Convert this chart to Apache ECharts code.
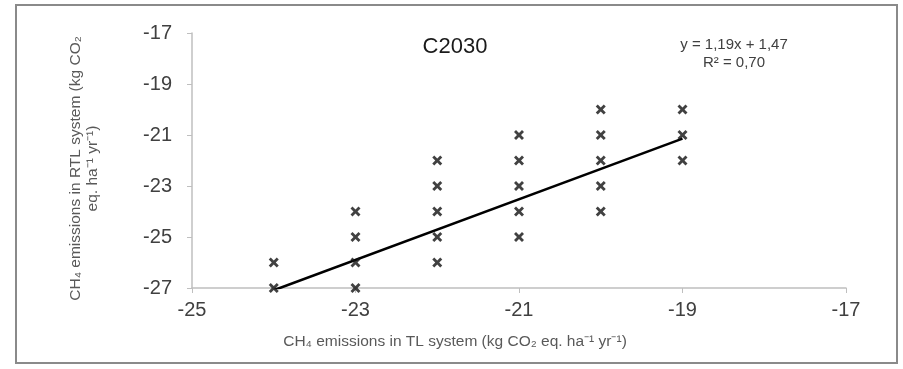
<!DOCTYPE html>
<html>
<head>
<meta charset="utf-8">
<script src="https://cdn.jsdelivr.net/npm/echarts@6/dist/echarts.min.js"></script>
<style>html,body{margin:0;padding:0;background:#fff}#c{width:903px;height:369px}</style>
</head>
<body>
<div id="c"></div>
<script>
// Data
const tlValues  = [-24, -24, -23, -23, -23, -23, -22, -22, -22, -22, -22, -21, -21, -21, -21, -21, -20, -20, -20, -20, -20, -19, -19, -19];
const rtlValues = [-26, -27, -24, -25, -26, -27, -22, -23, -24, -25, -26, -21, -22, -23, -24, -25, -20, -21, -22, -23, -24, -20, -21, -22];
const trendX = [-24, -19];
const trendY = [-27.09, -21.14];
const xTicks = [-25, -23, -21, -19, -17];
const yTicks = [-27, -25, -23, -21, -19, -17];
const titleText = 'C2030';
const eqText = 'y = 1,19x + 1,47';
const r2Text = 'R² = 0,70';

const FONT = '"Liberation Sans", Arial, sans-serif';
const points = tlValues.map((x, i) => [x, rtlValues[i]]);
const trend = trendX.map((x, i) => [x, trendY[i]]);
const crossPath = 'path://M0,2L2,0L5,3L8,0L10,2L7,5L10,8L8,10L5,7L2,10L0,8L3,5Z';

const chart = echarts.init(document.getElementById('c'), null, {renderer: 'canvas'});
chart.setOption({
  animation: false,
  backgroundColor: '#fff',
  grid: {left: 192, right: 57, top: 33, bottom: 81},
  title: {
    text: titleText, left: 450, top: 31, textAlign: 'center',
    textStyle: {fontFamily: FONT, fontSize: 22, fontWeight: 'normal', color: '#1a1a1a'}
  },
  graphic: [
    {type: 'rect', shape: {x: 16, y: 5, width: 881, height: 358}, style: {fill: 'none', stroke: '#8a8a8a', lineWidth: 2}, silent: true, z: -1},
    {type: 'text', x: 734, y: 36, style: {text: eqText + '\n' + r2Text, align: 'center', verticalAlign: 'top', fill: '#404040', font: '15px ' + FONT, lineHeight: 18}}
  ],
  xAxis: {
    type: 'value', min: -25, max: -17, interval: 2,
    axisLine: {show: true, onZero: false, lineStyle: {color: '#bfbfbf', width: 1.5}},
    axisTick: {show: true, length: 5, lineStyle: {color: '#bfbfbf'}},
    splitLine: {show: false},
    axisLabel: {margin: 12, fontFamily: FONT, fontSize: 20, color: '#404040',
      customValues: xTicks},
    name: 'CH₄ emissions in TL system (kg CO₂ eq. ha⁻¹ yr⁻¹)',
    nameLocation: 'middle', nameGap: 46,
    nameTextStyle: {fontFamily: FONT, fontSize: 15.5, color: '#595959', padding: [0, 128, 0, 0]}
  },
  yAxis: {
    type: 'value', min: -27, max: -17, interval: 2,
    axisLine: {show: true, onZero: false, lineStyle: {color: '#bfbfbf', width: 1.5}},
    axisTick: {show: true, length: 5, lineStyle: {color: '#bfbfbf'}},
    splitLine: {show: false},
    axisLabel: {margin: 20, fontFamily: FONT, fontSize: 20, color: '#404040',
      customValues: yTicks},
    name: 'CH₄ emissions in RTL system (kg CO₂\neq. ha⁻¹ yr⁻¹)',
    nameLocation: 'middle', nameGap: 91, nameRotate: 90,
    nameTextStyle: {fontFamily: FONT, fontSize: 15.5, color: '#595959', lineHeight: 17, align: 'center', padding: [0, 16, 0, 0]}
  },
  series: [
    {
      type: 'scatter', data: points, symbol: crossPath, symbolSize: 10,
      itemStyle: {color: '#111'}, z: 3
    },
    {
      type: 'line', data: trend, symbol: 'none',
      lineStyle: {color: '#000', width: 2.5}, z: 2
    }
  ]
});
</script>
</body>
</html>
